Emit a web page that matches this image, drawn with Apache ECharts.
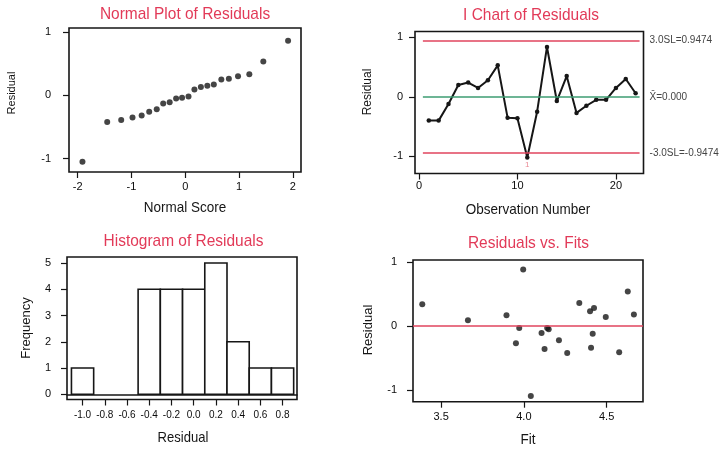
<!DOCTYPE html>
<html>
<head>
<meta charset="utf-8">
<title>Residual Model Diagnostics</title>
<script src="https://cdn.jsdelivr.net/npm/echarts@6/dist/echarts.min.js"></script>
<style>
  html, body { margin: 0; padding: 0; background: #ffffff; }
  #chart { width: 722px; height: 455px; }
</style>
</head>
<body>
<div id="chart"></div>
<script>
// ---- Normal probability plot: normal scores vs. ordered residuals ----
const normalScores = [-1.91, -1.45, -1.19, -0.98, -0.81, -0.67, -0.53, -0.41, -0.29, -0.17, -0.06,
                      0.06, 0.17, 0.29, 0.41, 0.53, 0.67, 0.81, 0.98, 1.19, 1.45, 1.91];
const orderedResiduals = [-1.05, -0.42, -0.39, -0.35, -0.32, -0.26, -0.22, -0.13, -0.11, -0.05, -0.04,
                          -0.02, 0.09, 0.13, 0.15, 0.17, 0.25, 0.26, 0.30, 0.33, 0.53, 0.86];

// ---- I chart: residuals in observation order ----
const observations = [1, 2, 3, 4, 5, 6, 7, 8, 9, 10, 11, 12, 13, 14, 15, 16, 17, 18, 19, 20, 21, 22];
const residualsByObs = [-0.40, -0.40, -0.12, 0.20, 0.24, 0.15, 0.28, 0.53, -0.35, -0.36, -1.02,
                        -0.25, 0.84, -0.07, 0.35, -0.27, -0.15, -0.05, -0.05, 0.15, 0.30, 0.06];
const upperLimit = 0.9474;
const centerLine = 0.000;
const lowerLimit = -0.9474;
const limitSpan = [0.4, 22.4];

// ---- Histogram of residuals ----
const binMidpoints = [-1.0, -0.8, -0.6, -0.4, -0.2, 0.0, 0.2, 0.4, 0.6, 0.8];
const binCounts = [1, 0, 0, 4, 4, 4, 5, 2, 1, 1];
const binWidth = 0.2;

// ---- Residuals vs. fitted values ----
const fittedValues = [3.386, 3.662, 3.895, 3.996, 3.972, 3.952, 4.042, 4.141, 4.150, 4.107, 4.416,
                      4.212, 4.125, 4.262, 4.406, 4.576, 4.628, 4.335, 4.400, 4.424, 4.495, 4.665];
const fitResiduals = [0.34, 0.09, 0.17, 0.88, -0.03, -0.27, -1.09, -0.03, -0.05, -0.11, -0.12,
                      -0.22, -0.36, -0.42, -0.34, -0.41, 0.54, 0.36, 0.23, 0.28, 0.14, 0.18];

// ---- Tick values ----
const normalScoreTicks = [-2, -1, 0, 1, 2];
const residualTicks = [-1, 0, 1];
const obsTicks = [0, 10, 20];
const residualBinTicks = [-1.0, -0.8, -0.6, -0.4, -0.2, 0.0, 0.2, 0.4, 0.6, 0.8];
const frequencyTicks = [0, 1, 2, 3, 4, 5];
const fitTicks = [3.5, 4.0, 4.5];

const FONT = '"Liberation Sans", Arial, sans-serif';
const INK = '#161616';
const TITLE_RED = '#e23a58';
const LIMIT_RED = '#e0455e';
const CENTER_GREEN = '#3c9c72';

function valueAxis(grid, min, max, ticks, margin, fontSize, fmt) {
  return {
    type: 'value', gridIndex: grid, min: min, max: max,
    axisLine: { show: false, onZero: false },
    axisTick: { show: true, inside: false, length: 6, customValues: ticks,
                lineStyle: { color: INK, width: 1.2 } },
    axisLabel: { customValues: ticks, margin: margin, color: '#0c0c0c', fontSize: fontSize,
                 fontFamily: FONT, formatter: fmt || (v => String(v)) },
    splitLine: { show: false }
  };
}

function text(str, x, y, size, color, scaleX, rotation) {
  return {
    type: 'text', x: x, y: y, scaleX: scaleX || 1, scaleY: 1, rotation: rotation || 0, silent: true,
    style: { text: str, x: 0, y: 0, fill: color, font: size + 'px ' + FONT,
             textAlign: 'center', align: 'center',
             textVerticalAlign: 'middle', verticalAlign: 'middle' }
  };
}

const gridStyle = { show: true, borderColor: INK, borderWidth: 1.6, backgroundColor: 'transparent' };
const fixed1 = v => v.toFixed(1);

const option = {
  backgroundColor: '#ffffff',
  animation: false,
  grid: [
    Object.assign({ left: 69, top: 28, width: 232, height: 144 }, gridStyle),
    Object.assign({ left: 415, top: 31.5, width: 228.5, height: 142 }, gridStyle),
    Object.assign({ left: 67, top: 257, width: 230, height: 142.5 }, gridStyle),
    Object.assign({ left: 413, top: 260, width: 230, height: 141.7 }, gridStyle)
  ],
  xAxis: [
    valueAxis(0, -2.16, 2.15, normalScoreTicks, 9, 11),
    valueAxis(1, -0.4, 22.8, obsTicks, 7, 11),
    // histogram baseline drawn at zero count
    { type: 'value', gridIndex: 2, min: -1.14, max: 0.93,
      axisLine: { show: true, onZero: true, lineStyle: { color: INK, width: 1.5 } },
      axisTick: { show: false }, axisLabel: { show: false }, splitLine: { show: false } },
    valueAxis(3, 3.33, 4.72, fitTicks, 10, 11, fixed1),
    Object.assign(valueAxis(2, -1.14, 0.93, residualBinTicks, 11, 10, fixed1), { position: 'bottom' })
  ],
  yAxis: [
    valueAxis(0, -1.21, 1.06, residualTicks, 18, 11),
    valueAxis(1, -1.29, 1.10, residualTicks, 12, 11),
    valueAxis(2, -0.2, 5.23, frequencyTicks, 16, 11),
    valueAxis(3, -1.18, 1.03, residualTicks, 16, 11)
  ],
  graphic: [
    text('Normal Plot of Residuals', 185, 14, 17, TITLE_RED, 0.91),
    text('I Chart of Residuals', 531, 15, 17, TITLE_RED, 0.91),
    text('Histogram of Residuals', 183.5, 241.5, 17, TITLE_RED, 0.91),
    text('Residuals vs. Fits', 528.5, 243, 17, TITLE_RED, 0.91),
    text('Normal Score', 185, 208, 15, INK, 0.9),
    text('Observation Number', 528, 210, 15, INK, 0.9),
    text('Residual', 183, 438, 15, INK, 0.87),
    text('Fit', 528, 440, 15, INK, 0.9),
    text('Residual', 12, 93, 11, INK, 1, Math.PI / 2),
    text('Residual', 368, 92, 12, INK, 1, Math.PI / 2),
    text('Frequency', 26, 328, 13, INK, 1, Math.PI / 2),
    text('Residual', 368, 330, 13, INK, 1, Math.PI / 2)
  ],
  series: [
    {
      name: 'Normal plot', type: 'scatter', xAxisIndex: 0, yAxisIndex: 0,
      symbol: 'circle', symbolSize: 6, itemStyle: { color: INK },
      data: normalScores.map((s, i) => [s, orderedResiduals[i]])
    },
    {
      name: 'I chart', type: 'line', xAxisIndex: 1, yAxisIndex: 1,
      symbol: 'circle', symbolSize: 4.5, showSymbol: true,
      lineStyle: { color: INK, width: 2 }, itemStyle: { color: INK },
      data: observations.map((o, i) => {
        const item = { value: [o, residualsByObs[i]] };
        if (residualsByObs[i] < lowerLimit || residualsByObs[i] > upperLimit) {
          item.label = { show: true, position: 'bottom', distance: 1, formatter: '1',
                         color: '#ea8a95', fontSize: 8, fontFamily: FONT };
        }
        return item;
      }),
      markLine: {
        silent: true, symbol: 'none', animation: false,
        label: { show: true, position: 'end', distance: 10, color: '#444',
                 fontSize: 10, fontFamily: FONT },
        data: [
          [ { coord: [limitSpan[0], upperLimit], lineStyle: { color: LIMIT_RED, width: 1.6, type: 'solid' },
              label: { formatter: '3.0SL=' + upperLimit.toFixed(4) } },
            { coord: [limitSpan[1], upperLimit] } ],
          [ { coord: [limitSpan[0], centerLine], lineStyle: { color: CENTER_GREEN, width: 1.6, type: 'solid' },
              label: { formatter: 'X\u0304=' + centerLine.toFixed(3) } },
            { coord: [limitSpan[1], centerLine] } ],
          [ { coord: [limitSpan[0], lowerLimit], lineStyle: { color: LIMIT_RED, width: 1.6, type: 'solid' },
              label: { formatter: '-3.0SL=' + lowerLimit.toFixed(4) } },
            { coord: [limitSpan[1], lowerLimit] } ]
        ]
      }
    },
    {
      name: 'Histogram', type: 'custom', xAxisIndex: 2, yAxisIndex: 2,
      data: binMidpoints.map((m, i) => [m, binCounts[i]]),
      encode: { x: 0, y: 1 },
      renderItem: function (params, api) {
        const mid = api.value(0);
        const count = api.value(1);
        if (!count) return null;
        const topLeft = api.coord([mid - binWidth / 2, count]);
        const bottomRight = api.coord([mid + binWidth / 2, 0]);
        return {
          type: 'rect',
          shape: { x: topLeft[0], y: topLeft[1],
                   width: bottomRight[0] - topLeft[0], height: bottomRight[1] - topLeft[1] },
          style: { fill: '#ffffff', stroke: INK, lineWidth: 1.6 }
        };
      }
    },
    {
      name: 'Residuals vs fits', type: 'scatter', xAxisIndex: 3, yAxisIndex: 3,
      symbol: 'circle', symbolSize: 6, itemStyle: { color: INK },
      data: fittedValues.map((f, i) => [f, fitResiduals[i]]),
      markLine: {
        silent: true, symbol: 'none', animation: false, label: { show: false },
        lineStyle: { color: LIMIT_RED, width: 1.5, type: 'solid' },
        data: [ { yAxis: 0 } ]
      }
    }
  ]
};

const chart = echarts.init(document.getElementById('chart'), null, { renderer: 'canvas' });
chart.setOption(option);
</script>
</body>
</html>
